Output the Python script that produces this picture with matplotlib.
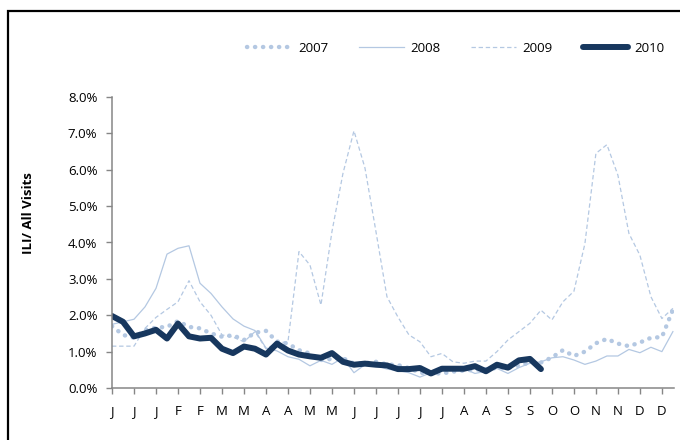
import numpy as np
import matplotlib
matplotlib.use("Agg")
import matplotlib.pyplot as plt
from matplotlib.patches import Rectangle
from matplotlib.ticker import FuncFormatter

plt.rcParams['font.family'] = ['Open Sans', 'DejaVu Sans']

# weekly ILI / all visits (%), 52 weeks per season
ili_2007 = [1.70, 1.46, 1.38, 1.59, 1.66, 1.68, 1.84, 1.68, 1.64, 1.50,
            1.41, 1.45, 1.32, 1.52, 1.57, 1.28, 1.22, 1.04, 0.95, 0.77,
            0.80, 0.82, 0.67, 0.68, 0.72, 0.65, 0.63, 0.55, 0.42, 0.40,
            0.40, 0.45, 0.48, 0.50, 0.52, 0.55, 0.55, 0.62, 0.70, 0.70,
            0.84, 1.04, 0.88, 1.00, 1.23, 1.35, 1.22, 1.15, 1.25, 1.38,
            1.40, 2.15]
ili_2008 = [1.75, 1.82, 1.89, 2.23, 2.74, 3.68, 3.84, 3.91, 2.88, 2.60,
            2.23, 1.90, 1.70, 1.58, 1.10, 1.02, 0.86, 0.79, 0.61, 0.76,
            0.65, 0.83, 0.42, 0.64, 0.62, 0.52, 0.48, 0.42, 0.30, 0.42,
            0.50, 0.52, 0.53, 0.40, 0.46, 0.54, 0.40, 0.56, 0.68, 0.72,
            0.83, 0.86, 0.77, 0.65, 0.74, 0.88, 0.88, 1.06, 0.97, 1.12,
            1.00, 1.55]
ili_2009 = [1.15, 1.15, 1.15, 1.64, 1.94, 2.16, 2.37, 2.95, 2.37, 2.00,
            1.46, 1.40, 1.27, 1.55, 1.08, 1.24, 1.27, 3.75, 3.38, 2.28,
            4.30, 5.90, 7.07, 6.05, 4.30, 2.51, 1.95, 1.46, 1.27, 0.86,
            0.95, 0.72, 0.68, 0.74, 0.74, 1.00, 1.32, 1.55, 1.78, 2.14,
            1.87, 2.37, 2.66, 3.97, 6.45, 6.69, 5.85, 4.25, 3.65, 2.51,
            1.91, 2.19]
ili_2010 = [1.98, 1.82, 1.42, 1.50, 1.60, 1.36, 1.77, 1.42, 1.36, 1.38,
            1.08, 0.96, 1.14, 1.08, 0.92, 1.22, 1.03, 0.92, 0.87, 0.83,
            0.96, 0.72, 0.64, 0.67, 0.64, 0.62, 0.52, 0.52, 0.55, 0.40,
            0.53, 0.53, 0.53, 0.60, 0.46, 0.64, 0.56, 0.76, 0.80, 0.52]

month_labels = ['J', 'J', 'J', 'F', 'F', 'M', 'M', 'A', 'A', 'M', 'M', 'J', 'J',
                'J', 'J', 'J', 'A', 'A', 'S', 'S', 'O', 'O', 'N', 'N', 'D', 'D']

light = '#b4c8e2'
navy = '#17375e'
grey = '#868686'

fig = plt.figure(figsize=(6.8, 4.4), dpi=100)
ax = fig.add_axes([112 / 680, 52 / 440, 562 / 680, 291 / 440])

ax.plot(np.arange(len(ili_2007)), ili_2007, color=light, lw=3.2,
        linestyle=(0, (0.05, 1.75)), dash_capstyle='round', label='2007')
ax.plot(np.arange(len(ili_2008)), ili_2008, color=light, lw=0.9,
        label='2008')
ax.plot(np.arange(len(ili_2009)), ili_2009, color=light, lw=0.9,
        linestyle=(0, (3.5, 2.2)), label='2009')
ax.plot(np.arange(len(ili_2010)), ili_2010, color=navy, lw=4.3,
        solid_joinstyle='round', solid_capstyle='round', label='2010')

ax.set_xlim(0, 51.1)
ax.set_ylim(0, 8)
ax.set_yticks(np.arange(0, 8.01, 1))
ax.yaxis.set_major_formatter(FuncFormatter(lambda v, p: '%.1f%%' % v))
ax.set_xticks(np.arange(0, 2 * len(month_labels), 2))
ax.set_xticklabels(month_labels)

for side in ['top', 'right']:
    ax.spines[side].set_visible(False)
for side in ['left', 'bottom']:
    ax.spines[side].set_color(grey)
    ax.spines[side].set_linewidth(1.1)
ax.tick_params(axis='both', colors=grey, length=4.5, width=1,
               labelcolor='black', labelsize=9.5)
ax.tick_params(axis='x', pad=8)
ax.tick_params(axis='y', pad=6)

ax.set_ylabel('ILI/ All Visits', fontsize=9.5, fontweight='bold')
ax.yaxis.set_label_coords(-0.137, 0.6)

fig.legend(loc='center', bbox_to_anchor=(456 / 680, 1 - 48 / 440), ncol=4,
           frameon=False, fontsize=9.5, handlelength=3.4, handletextpad=0.5,
           columnspacing=2.3)

# chart border (only left and top edges visible in the crop)
fig.patches.append(Rectangle((8 / 680, -0.2), 1.2, 1.2 - 10.5 / 440,
                             transform=fig.transFigure, fill=False,
                             edgecolor='black', lw=1.6))

fig.savefig('out.png', dpi=100)
